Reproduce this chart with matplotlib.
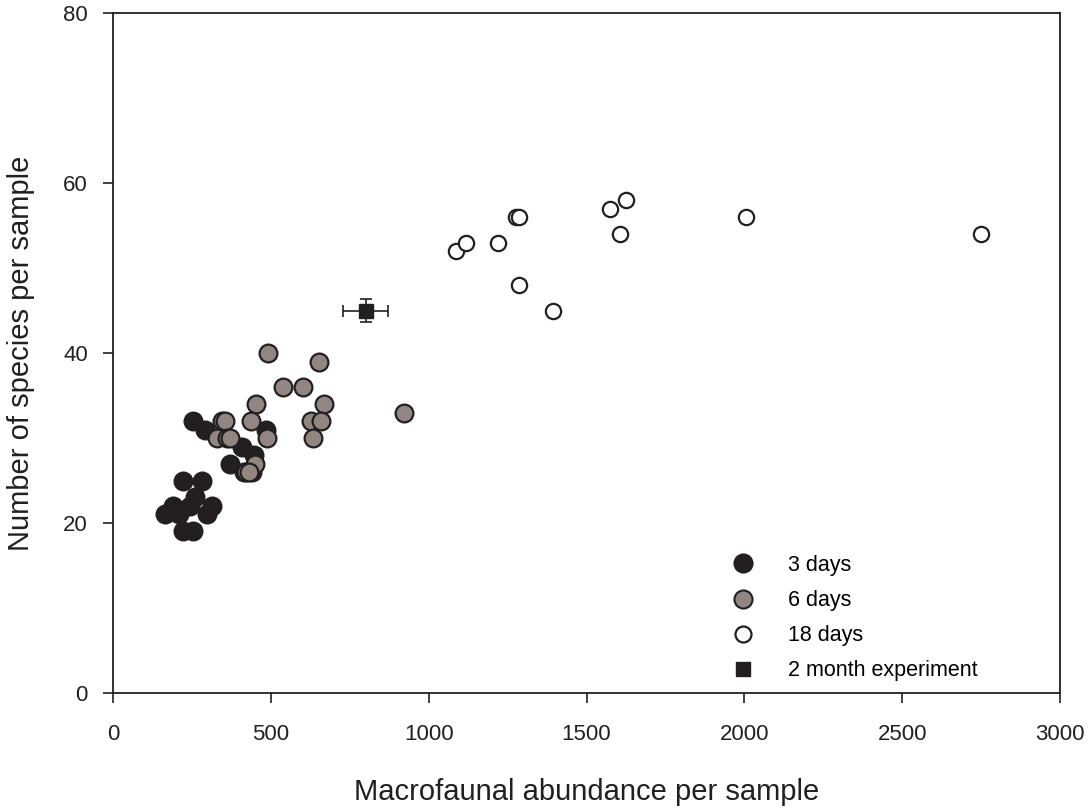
import matplotlib
matplotlib.use("Agg")
import matplotlib.pyplot as plt
from matplotlib.lines import Line2D

plt.rcParams['font.family'] = ['Liberation Sans', 'DejaVu Sans']

# 3 days
x3 = [252, 291, 485, 408, 445, 371, 221, 281, 260, 191, 313, 165, 210, 297, 245, 223, 252, 415, 440]
y3 = [32, 31, 31, 29, 28, 27, 25, 25, 23, 22, 22, 21, 21, 21, 22, 19, 19, 26, 26]
# 6 days
x6 = [490, 653, 537, 601, 453, 669, 344, 355, 437, 627, 659, 923, 330, 360, 370, 487, 633, 450, 421, 431]
y6 = [40, 39, 36, 36, 34, 34, 32, 32, 32, 32, 32, 33, 30, 30, 30, 30, 30, 27, 26, 26]
# 18 days
x18 = [1085, 1117, 1220, 1278, 1285, 1285, 1395, 1575, 1605, 1625, 2005, 2750]
y18 = [52, 53, 53, 56, 56, 48, 45, 57, 54, 58, 56, 54]
# 2 month experiment
xm, ym = [800], [45]
xm_err, ym_err = [70], [1.4]

xticks = [0, 500, 1000, 1500, 2000, 2500, 3000]
yticks = [0, 20, 40, 60, 80]

edge = '#231f20'
fig = plt.figure(figsize=(10.88, 8.09), dpi=100)
ax = fig.add_axes([0.1039, 0.1434, 0.8704, 0.8405])

ax.plot(x3, y3, 'o', ms=12.8, mfc='#231f20', mec=edge, mew=1.6, ls='none', zorder=3)
ax.plot(x6, y6, 'o', ms=12.8, mfc='#928682', mec=edge, mew=1.6, ls='none', zorder=4)
ax.plot(x18, y18, 'o', ms=11, mfc='white', mec=edge, mew=1.6, ls='none', zorder=4)
ax.errorbar(xm, ym, xerr=xm_err, yerr=ym_err, fmt='s', ms=10, mfc='#231f20', mec=edge,
            ecolor=edge, elinewidth=1.2, capsize=4, capthick=1.2, zorder=5)

ax.set_xlim(0, 3000)
ax.set_ylim(0, 80)
ax.set_xticks(xticks)
ax.set_yticks(yticks)
ax.tick_params(direction='out', length=7.2, width=1.2, labelsize=16, colors='#231f20')
ax.tick_params(axis='x', pad=15)
ax.tick_params(axis='y', pad=11)
for s in ax.spines.values():
    s.set_linewidth(1.3)
    s.set_color('#231f20')

ax.set_xlabel('Macrofaunal abundance per sample', fontsize=21, labelpad=24, color='#231f20')
ax.set_ylabel('Number of species per sample', fontsize=21, labelpad=20, color='#231f20')

handles = [
    Line2D([], [], marker='o', ls='none', ms=13, mfc='#231f20', mec=edge, mew=1.5),
    Line2D([], [], marker='o', ls='none', ms=13, mfc='#928682', mec=edge, mew=1.5),
    Line2D([], [], marker='o', ls='none', ms=11.5, mfc='white', mec=edge, mew=1.6),
    Line2D([], [], marker='s', ls='none', ms=10.5, mfc='#231f20', mec=edge),
]
labels = ['3 days', '6 days', '18 days', '2 month experiment']
ax.legend(handles, labels, loc='upper left', bbox_to_anchor=(0.631, 0.219), frameon=False,
          fontsize=15.5, handletextpad=1.1, labelspacing=0.66, borderpad=0)

fig.savefig('out.png', dpi=100)
